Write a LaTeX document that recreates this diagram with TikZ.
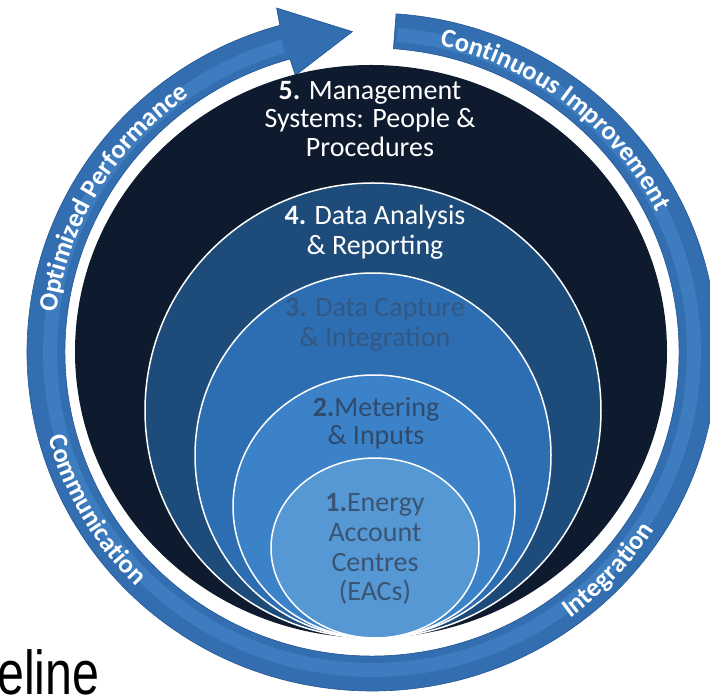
\documentclass[tikz,border=0pt]{standalone}
\usepackage{fontspec}
\setmainfont{Carlito}
\newfontfamily\arialfont{Liberation Sans}
\usetikzlibrary{decorations.text,calc}
\definecolor{ringblue}{RGB}{50,110,176}
\definecolor{ringlight}{RGB}{66,130,196}
\definecolor{ringdark}{RGB}{36,86,146}
\definecolor{cfive}{RGB}{14,27,46}
\definecolor{cfour}{RGB}{30,76,122}
\definecolor{cthree}{RGB}{45,110,178}
\definecolor{ctwo}{RGB}{60,130,200}
\definecolor{cone}{RGB}{86,152,212}
\definecolor{tthree}{RGB}{52,88,132}
\definecolor{ttwo}{RGB}{48,74,108}
\definecolor{tone}{RGB}{58,84,116}
\newcommand{\ringfnt}{\fontsize{26.5}{26.5}\selectfont\bfseries}
\tikzset{
  layer/.style={draw=white, line width=1.5pt},
  mainline/.style={font=\fontsize{28}{28}\selectfont, anchor=base, inner sep=0pt},
  ringlabel/.style={decorate, decoration={text along path, text color=white, text align=center}},
}
\begin{document}
\begin{tikzpicture}[x=1pt,y=1pt]
\useasboundingbox (0,0) rectangle (710,696);
\coordinate (C) at (372,344);
% circular arrow ring
\fill[ringblue, draw=ringdark, line width=0.6pt]
  ($(C)+(86:345 and 339)$) arc[start angle=86, end angle=-254.5, x radius=345, y radius=339]
  -- ($(C)+(105.5:357)$) -- ($(C)+(93.5:321)$) -- ($(C)+(105.5:287)$)
  -- ($(C)+(105.5:307 and 304)$) arc[start angle=-254.5, end angle=86, x radius=307, y radius=304]
  -- cycle;
% soft highlight along the band
\draw[ringlight, line width=14pt, opacity=0.7]
  ($(C)+(85.5:322 and 318)$) arc[start angle=85.5, end angle=-254, x radius=322, y radius=318];
% nested circles
\fill[cfive] (371,344.5) ellipse[x radius=296, y radius=286.5];
\filldraw[cfour, layer] (373,285.5) ellipse[x radius=228, y radius=227.5];
\filldraw[cthree, layer] (373,240.5) ellipse[x radius=178, y radius=182.5];
\filldraw[ctwo, layer] (374,189.5) ellipse[x radius=141, y radius=131.5];
\filldraw[cone, layer] (375,148) ellipse[x radius=104, y radius=90];
% ring labels
\path[ringlabel, decoration={text={|\ringfnt|Optimized Performance}}]
  ($(C)+(189:318 and 313)$) arc[start angle=189, end angle=109, x radius=318, y radius=313];
\path[ringlabel, decoration={text={|\ringfnt|Continuous Improvement}}]
  ($(C)+(97:318 and 313)$) arc[start angle=97, end angle=7, x radius=318, y radius=313];
\path[ringlabel, decoration={text={|\ringfnt|Communication}}]
  ($(C)+(170:335 and 330)$) arc[start angle=170, end angle=250, x radius=335, y radius=330];
\path[ringlabel, decoration={text={|\ringfnt|Integration}}]
  ($(C)+(-83:335 and 330)$) arc[start angle=-83, end angle=-3, x radius=335, y radius=330];
% layer texts
\node[mainline, text=white] (t5a) at (370,596) {\textbf{5.} Management};
\node[mainline, text=white] (t5b) at (370,568) {Systems: People \&};
\node[mainline, text=white] (t5c) at (370,539) {Procedures};
\node[mainline, text=white] (t4a) at (375,471) {\textbf{4.} Data Analysis};
\node[mainline, text=white] (t4b) at (375,441) {\& Reporting};
\node[mainline, text=tthree] (t3a) at (375,379) {\textbf{3.} Data Capture};
\node[mainline, text=tthree] (t3b) at (375,349) {\& Integration};
\node[mainline, text=ttwo] (t2a) at (376,279) {\textbf{2.}Metering};
\node[mainline, text=ttwo] (t2b) at (376,251) {\& Inputs};
\node[mainline, text=tone] (t1a) at (375,184) {\textbf{1.}Energy};
\node[mainline, text=tone] (t1b) at (375,154) {Account};
\node[mainline, text=tone] (t1c) at (375,124) {Centres};
\node[mainline, text=tone] (t1d) at (375,95) {(EACs)};
% cropped word at bottom left
\node[anchor=base west, inner sep=0pt, font=\arialfont\fontsize{62}{62}\selectfont] (base) at (-3,1) {\scalebox{0.78}[1]{eline}};
\end{tikzpicture}
\end{document}
